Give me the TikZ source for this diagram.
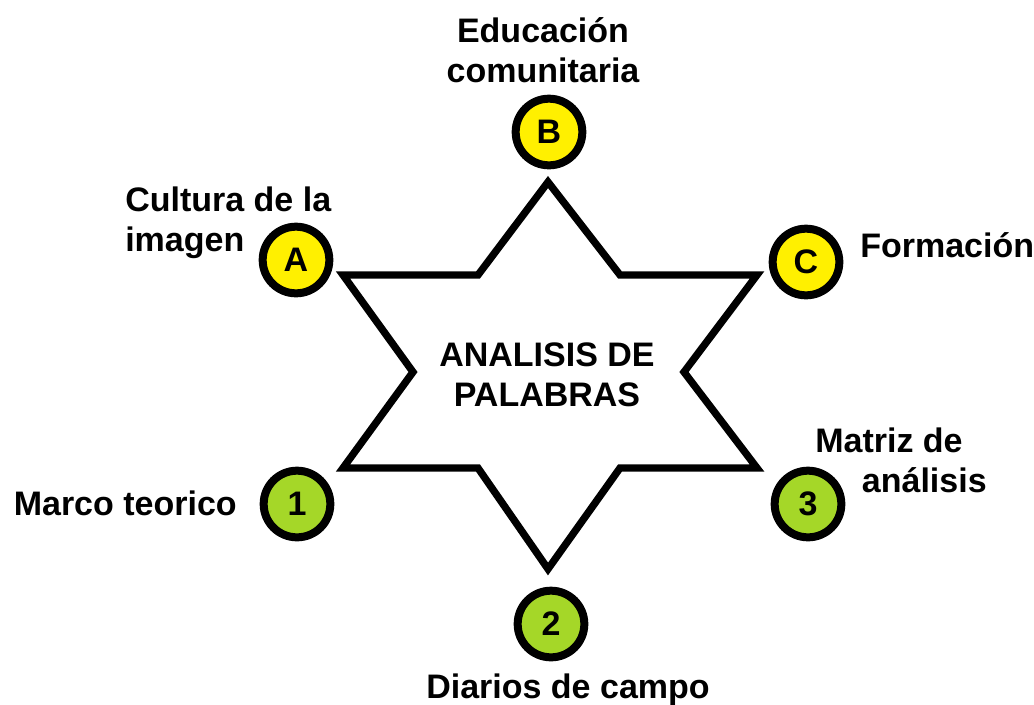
\documentclass[tikz,border=0pt]{standalone}
\usepackage{fontspec}
\setmainfont{Liberation Sans}
\usepackage{tikz}

\definecolor{letteryellow}{RGB}{255,240,0}
\definecolor{numbergreen}{RGB}{165,215,40}

\begin{document}
\begin{tikzpicture}[x=0.75pt,y=0.75pt,yscale=-1,xscale=1,
    badge/.style={circle,draw=black,line width=6pt,minimum size=50pt,inner sep=0pt,
      font=\fontsize{25.5}{30}\selectfont\bfseries},
    label text/.style={inner sep=0pt,font=\fontsize{25.5}{30}\selectfont\bfseries}]
        \useasboundingbox (0,0) rectangle (1034,704);

        %Shape: Star [id:star]
        \draw [line width=5.5pt]  (343,275) -- (478,275) -- (548,182) -- (620,275) -- (757,275) -- (684,372) -- (757,468) -- (620,468) -- (548,569) -- (478,468) -- (343,468) -- (413,372) -- cycle ;

        %Shape: Circles
        \node [badge,fill=letteryellow] (circA) at (296,260) {A};
        \node [badge,fill=letteryellow] (circB) at (549,132) {B};
        \node [badge,fill=letteryellow] (circC) at (806,262) {C};
        \node [badge,fill=numbergreen] (circ1) at (297,504) {1};
        \node [badge,fill=numbergreen] (circ2) at (551,624) {2};
        \node [badge,fill=numbergreen] (circ3) at (808,504) {3};

        % Text Node
        \node [label text,align=center] (titulo) at (547,375) {ANALISIS DE\\PALABRAS};
        % Text Node
        \node [label text,align=center] (educacion) at (543,50) {Educación\\comunitaria};
        % Text Node
        \node [label text,align=left,anchor=west] (cultura) at (125,223) {Cultura de la\\imagen};
        % Text Node
        \node [label text,anchor=west] (formacion) at (860,245) {Formación};
        % Text Node
        \node [label text,anchor=east] (marco) at (237,503) {Marco teorico};
        % Text Node
        \node [label text,align=left,anchor=west] (matriz) at (815,460) {Matriz de\\\hspace*{35pt}análisis};
        % Text Node
        \node [label text] (diarios) at (568,690) {Diarios de campo};

\end{tikzpicture}
\end{document}
